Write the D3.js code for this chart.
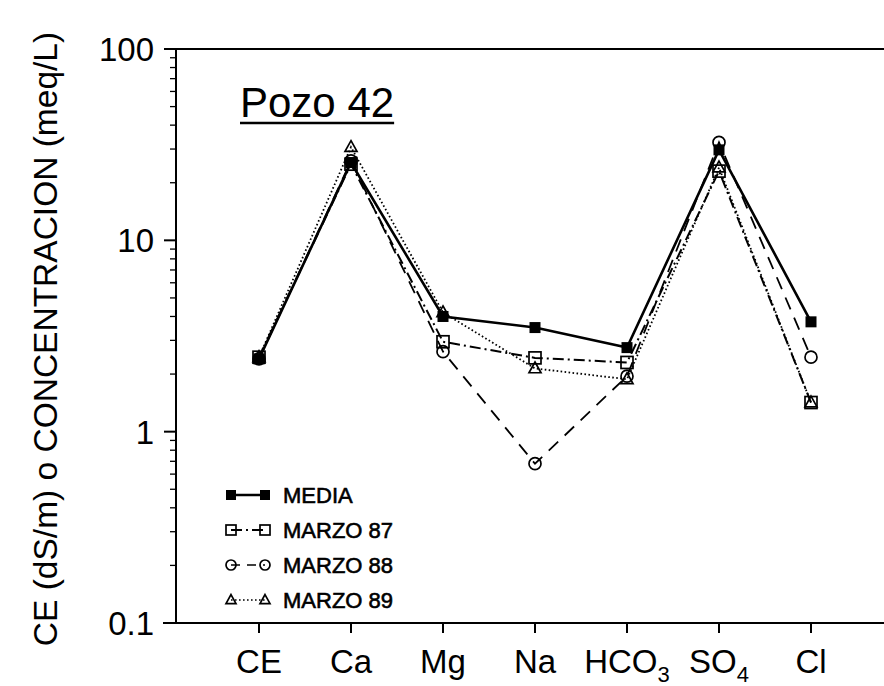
<!DOCTYPE html>
<html><head><meta charset="utf-8">
<script src="https://cdn.jsdelivr.net/npm/d3@7"></script>
<style>body{margin:0;background:#fff} svg{display:block}</style>
</head><body>
<svg id="chart" width="884" height="686"></svg>
<script>
const categories = ["CE", "Ca", "Mg", "Na", "HCO3", "SO4", "Cl"];
const media    = [2.4, 25.5, 4.0, 3.5, 2.75, 29.7, 3.75];
const marzo87  = [2.45, 25.0, 2.95, 2.43, 2.3, 23.0, 1.42];
const marzo88  = [2.4, 26.0, 2.62, 0.68, 1.95, 32.5, 2.45];
const marzo89  = [2.45, 30.7, 4.2, 2.14, 1.88, 24.0, 1.42];
const seriesNames = ["MEDIA", "MARZO 87", "MARZO 88", "MARZO 89"];
const yTickValues = [0.1, 1, 10, 100];
const yTickLabels = ["0.1", "1", "10", "100"];
const yTitle = "CE (dS/m) o CONCENTRACION (meq/L)";
const chartTitle = "Pozo 42";

(function () {
const FONT = "'Liberation Sans', Arial, Helvetica, sans-serif";
const svg = d3.select("#chart").style("font-family", FONT);

const pLeft = 176, pRight = 884, pTop = 49, pBottom = 623;
const x = d3.scalePoint().domain(categories).range([259, 811]);
const y = d3.scaleLog().domain([0.1, 100]).range([pBottom, pTop]);

// frame lines
svg.append("line").attr("x1", 165).attr("x2", pRight).attr("y1", pTop).attr("y2", pTop)
  .attr("stroke", "#000").attr("stroke-width", 2);
svg.append("line").attr("x1", pLeft).attr("x2", pLeft).attr("y1", pTop).attr("y2", pBottom)
  .attr("stroke", "#000").attr("stroke-width", 2);
svg.append("line").attr("x1", 163).attr("x2", pRight).attr("y1", pBottom).attr("y2", pBottom)
  .attr("stroke", "#000").attr("stroke-width", 2);

// y ticks (major + minor)
const minor = [];
for (let d = 0; d < 3; d++) for (let k = 2; k <= 9; k++) minor.push(k * Math.pow(10, d - 1));
svg.selectAll(".ymin").data(minor).enter().append("line")
  .attr("x1", pLeft - 6).attr("x2", pLeft).attr("y1", d => y(d)).attr("y2", d => y(d))
  .attr("stroke", "#000").attr("stroke-width", 1.3);
svg.selectAll(".ymaj").data(yTickValues).enter().append("line")
  .attr("x1", pLeft - 12).attr("x2", pLeft).attr("y1", d => y(d)).attr("y2", d => y(d))
  .attr("stroke", "#000").attr("stroke-width", 2);
svg.selectAll(".ylab").data(yTickValues).enter().append("text")
  .attr("x", 154).attr("y", d => y(d)).attr("dy", "0.36em")
  .attr("text-anchor", "end").attr("font-size", 33)
  .text((d, i) => yTickLabels[i]);

// x ticks
svg.selectAll(".xt").data(categories).enter().append("line")
  .attr("x1", d => x(d)).attr("x2", d => x(d)).attr("y1", pBottom).attr("y2", pBottom + 10)
  .attr("stroke", "#000").attr("stroke-width", 2);
const xl = svg.selectAll(".xl").data(categories).enter().append("text")
  .attr("x", d => x(d)).attr("y", 673).attr("text-anchor", "middle").attr("font-size", 33);
xl.each(function(d) {
  const t = d3.select(this);
  const m = d.match(/^([A-Za-z]+?)(\d*)$/);
  t.append("tspan").text(m[1]);
  if (m[2]) t.append("tspan").attr("font-size", 22).attr("dy", 9).text(m[2]);
});

// y title
svg.append("text").attr("transform", "translate(57,339) rotate(-90)")
  .attr("text-anchor", "middle").attr("font-size", 33.5).text(yTitle);

// chart title
const tt = svg.append("text").attr("x", 240).attr("y", 117).attr("font-size", 42).text(chartTitle);
const tw = tt.node().getComputedTextLength();
svg.append("line").attr("x1", 240).attr("x2", 240 + tw).attr("y1", 123).attr("y2", 123)
  .attr("stroke", "#000").attr("stroke-width", 2.5);

// series
const series = [
  {name: seriesNames[0], values: media,   dash: null,         width: 2.6, marker: "fsquare"},
  {name: seriesNames[1], values: marzo87, dash: "11,4,2,4",   width: 2.0, marker: "square"},
  {name: seriesNames[2], values: marzo88, dash: "13,9",       width: 1.8, marker: "circle"},
  {name: seriesNames[3], values: marzo89, dash: "1.6,2.4",    width: 1.8, marker: "triangle"}
];

const line = d3.line().x(d => x(d.c)).y(d => y(d.v));

function drawMarker(g, type, cx, cy, s) {
  if (type === "fsquare") {
    g.append("rect").attr("x", cx - s/2).attr("y", cy - s/2).attr("width", s).attr("height", s)
      .attr("fill", "#000");
  } else if (type === "square") {
    g.append("rect").attr("x", cx - s/2).attr("y", cy - s/2).attr("width", s).attr("height", s)
      .attr("fill", "none").attr("stroke", "#000").attr("stroke-width", 1.7);
  } else if (type === "circle") {
    g.append("circle").attr("cx", cx).attr("cy", cy).attr("r", s/2)
      .attr("fill", "none").attr("stroke", "#000").attr("stroke-width", 1.7);
  } else {
    const h = s * 0.9;
    g.append("path").attr("d", `M${cx},${cy - h*0.6}L${cx + s/2},${cy + h*0.4}L${cx - s/2},${cy + h*0.4}Z`)
      .attr("fill", "none").attr("stroke", "#000").attr("stroke-width", 1.7);
  }
}

const plot = svg.append("g");
series.slice().reverse().forEach(s => {
  const pts = categories.map((c, i) => ({c, v: s.values[i]}));
  plot.append("path").attr("d", line(pts)).attr("fill", "none").attr("stroke", "#000")
    .attr("stroke-width", s.width).attr("stroke-dasharray", s.dash);
});
series.slice().reverse().forEach(s => {
  const g = plot.append("g");
  categories.forEach((c, i) => drawMarker(g, s.marker, x(c), y(s.values[i]), s.marker === "fsquare" ? 11 : 12));
});

// legend
const legY = d3.scalePoint().domain(seriesNames).range([495, 600]);
const lg = svg.append("g");
series.forEach(s => {
  const ly = legY(s.name);
  lg.append("line").attr("x1", 231).attr("x2", 265).attr("y1", ly).attr("y2", ly)
    .attr("stroke", "#000").attr("stroke-width", s.width * 0.9)
    .attr("stroke-dasharray", s.dash ? (s.marker === "circle" ? "9,7" : s.dash) : null);
  drawMarker(lg, s.marker, 231, ly, 10);
  drawMarker(lg, s.marker, 265, ly, 10);
  lg.append("text").attr("x", 283).attr("y", ly).attr("dy", "0.36em")
    .attr("font-size", 22).attr("stroke", "#000").attr("stroke-width", 0.6).text(s.name);
});
})();
</script>
</body></html>
